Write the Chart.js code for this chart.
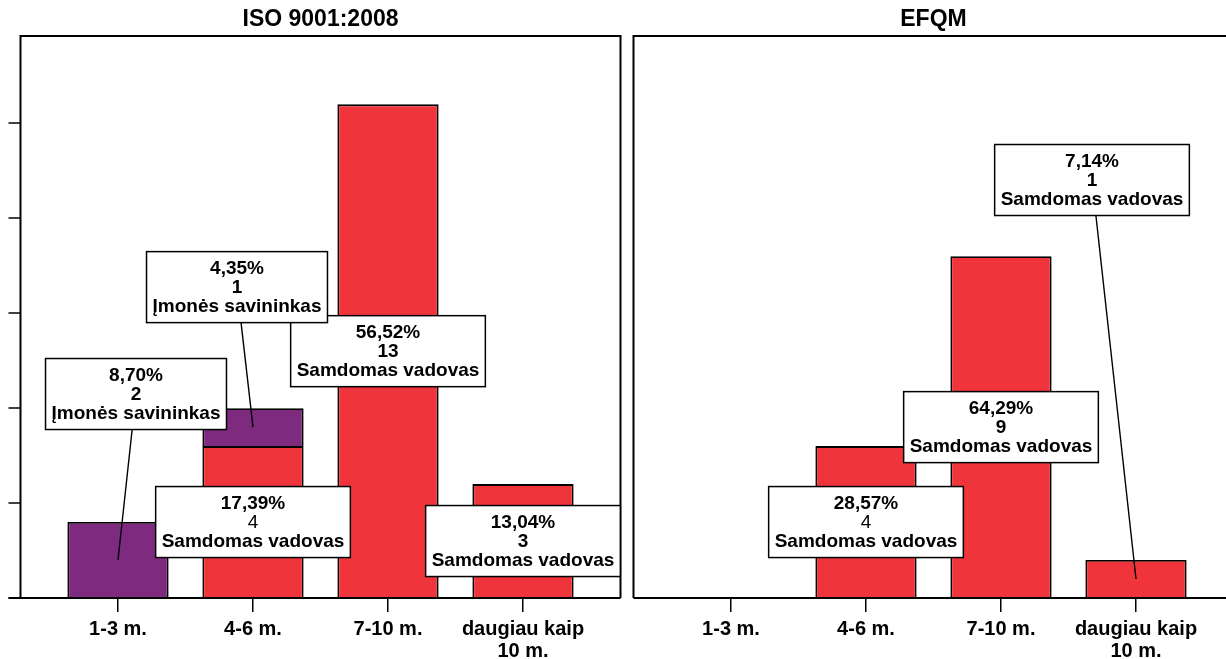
<!DOCTYPE html>
<html>
<head>
<meta charset="utf-8">
<script src="https://cdn.jsdelivr.net/npm/chart.js@4.4.1/dist/chart.umd.min.js"></script>
<style>
  body { margin: 0; background: #fff; }
  .panel { position: absolute; top: 0; }
</style>
</head>
<body>
<div class="panel" style="left:0"><canvas id="iso" width="627" height="659"></canvas></div>
<div class="panel" style="left:627px"><canvas id="efqm" width="599" height="659"></canvas></div>
<script>
// categories and counts per panel
const categories = ['1-3 m.', '4-6 m.', '7-10 m.', ['daugiau kaip', '10 m.']];
const isoOwner = [2, 1, null, null];       // Įmonės savininkas
const isoHired = [null, 4, 13, 3];         // Samdomas vadovas
const efqmOwner = [null, null, null, null];
const efqmHired = [null, 4, 9, 1];
const yTickValues = [0, 2.5, 5, 7.5, 10, 12.5];
const yMax = 14.8;

const RED = '#ef343c';
const PURPLE = '#7e2a7e';
const FONT = "'Liberation Sans', Arial, sans-serif";

// callout placement (dataset 0 = hired, 1 = owner); offsets in px from segment centre
const isoCallouts = [
  { ds: 0, i: 1, dx: 0, dy: 0, countBold: false },
  { ds: 0, i: 2, dx: 0, dy: 0, countBold: true },
  { ds: 0, i: 3, dx: 0, dy: 0, countBold: true },
  { ds: 1, i: 0, dx: 18, dy: -166, countBold: true, leader: true },
  { ds: 1, i: 1, dx: -16, dy: -140, countBold: true, leader: true },
];
const efqmCallouts = [
  { ds: 0, i: 1, dx: 0, dy: 0, countBold: false },
  { ds: 0, i: 2, dx: 0, dy: 0, countBold: true },
  { ds: 0, i: 3, dx: -44, dy: -399, countBold: true, leader: true },
];

const seriesNames = ['Samdomas vadovas', 'Įmonės savininkas'];

function pct(v, total) {
  return (v / total * 100).toFixed(2).replace('.', ',') + '%';
}

function drawCallout(ctx, cx, cy, lines, ax, ay, leader) {
  ctx.save();
  if (leader) {
    ctx.strokeStyle = '#000';
    ctx.lineWidth = 1.4;
    ctx.beginPath();
    ctx.moveTo(cx, cy);
    ctx.lineTo(ax, ay);
    ctx.stroke();
  }
  let w = 0;
  lines.forEach(l => {
    ctx.font = (l.bold ? 'bold ' : '') + '19px ' + FONT;
    w = Math.max(w, ctx.measureText(l.text).width);
  });
  w += 12;
  const h = 71;
  ctx.fillStyle = '#fff';
  ctx.fillRect(cx - w / 2, cy - h / 2, w, h);
  ctx.strokeStyle = '#000';
  ctx.lineWidth = 1.5;
  ctx.strokeRect(cx - w / 2, cy - h / 2, w, h);
  ctx.fillStyle = '#000';
  ctx.textAlign = 'center';
  ctx.textBaseline = 'middle';
  lines.forEach((l, k) => {
    ctx.font = (l.bold ? 'bold ' : '') + '19px ' + FONT;
    ctx.fillText(l.text, cx, cy + (k - 1) * 19 + 1);
  });
  ctx.restore();
}

const panelPlugin = {
  id: 'panel',
  afterDatasetsDraw(chart, args, opts) {
    const ctx = chart.ctx;
    const ys = chart.scales.y;
    const area = chart.chartArea;
    const frameLeft = area.left - 30;
    const frameRight = area.right + 30;
    const base = ys.getPixelForValue(0);

    ctx.save();
    ctx.strokeStyle = '#000';
    ctx.lineWidth = 2;
    ctx.beginPath();
    ctx.moveTo(frameLeft, base);
    ctx.lineTo(frameLeft, area.top);
    ctx.lineTo(frameRight, area.top);
    ctx.lineTo(frameRight, base);
    ctx.stroke();

    // base line
    ctx.beginPath();
    ctx.moveTo(opts.yTicks ? frameLeft - 12 : frameLeft, base);
    ctx.lineTo(frameRight, base);
    ctx.stroke();

    if (opts.yTicks) {
      ctx.lineWidth = 1.5;
      yTickValues.forEach(v => {
        const py = Math.round(ys.getPixelForValue(v));
        ctx.beginPath();
        ctx.moveTo(frameLeft - 12, py);
        ctx.lineTo(frameLeft, py);
        ctx.stroke();
      });
    }

    // title
    ctx.fillStyle = '#000';
    ctx.font = 'bold 23px ' + FONT;
    ctx.textAlign = 'center';
    ctx.textBaseline = 'middle';
    ctx.fillText(opts.title, (frameLeft + frameRight) / 2, 20);
    ctx.restore();

    // callouts
    const total = chart.data.datasets.reduce((s, d) => s + d.data.reduce((a, b) => a + (b || 0), 0), 0);
    opts.callouts.forEach(c => {
      const v = chart.data.datasets[c.ds].data[c.i];
      const bar = chart.getDatasetMeta(c.ds).data[c.i];
      const ax = bar.x;
      const ay = (bar.y + bar.base) / 2;
      drawCallout(ctx, ax + c.dx, ay + c.dy, [
        { text: pct(v, total), bold: true },
        { text: String(v), bold: c.countBold },
        { text: seriesNames[c.ds], bold: true },
      ], ax, ay, c.leader);
    });
  }
};

function makeChart(id, hired, owner, title, callouts, padLeft, padRight, yTicks) {
  return new Chart(document.getElementById(id), {
    type: 'bar',
    data: {
      labels: categories,
      datasets: [
        { label: seriesNames[0], data: hired, backgroundColor: RED },
        { label: seriesNames[1], data: owner, backgroundColor: PURPLE },
      ],
    },
    options: {
      responsive: false,
      animation: false,
      layout: { padding: { left: padLeft, right: padRight, top: 36, bottom: 0 } },
      datasets: {
        bar: {
          borderColor: '#000',
          borderWidth: 1.8,
          categoryPercentage: 1,
          barPercentage: 0.75,
        },
      },
      scales: {
        x: {
          stacked: true,
          offset: true,
          border: { display: false },
          grid: {
            display: true,
            drawOnChartArea: false,
            drawTicks: true,
            tickLength: 14,
            offset: false,
            color: '#000',
            lineWidth: 1.5,
          },
          ticks: {
            color: '#000',
            padding: 6,
            maxRotation: 0,
            autoSkip: false,
            font: { family: FONT, size: 20, weight: 'bold', lineHeight: 1.12 },
          },
          afterFit(axis) { axis.height = 61; },
        },
        y: {
          stacked: true,
          display: false,
          min: 0,
          max: yMax,
        },
      },
      plugins: {
        legend: { display: false },
        tooltip: { enabled: false },
        panel: { title, callouts, yTicks },
      },
    },
    plugins: [panelPlugin],
  });
}

makeChart('iso', isoHired, isoOwner, 'ISO 9001:2008', isoCallouts, 50.5, 36.5, true);
makeChart('efqm', efqmHired, efqmOwner, 'EFQM', efqmCallouts, 36.5, 22.5, false);
</script>
</body>
</html>
